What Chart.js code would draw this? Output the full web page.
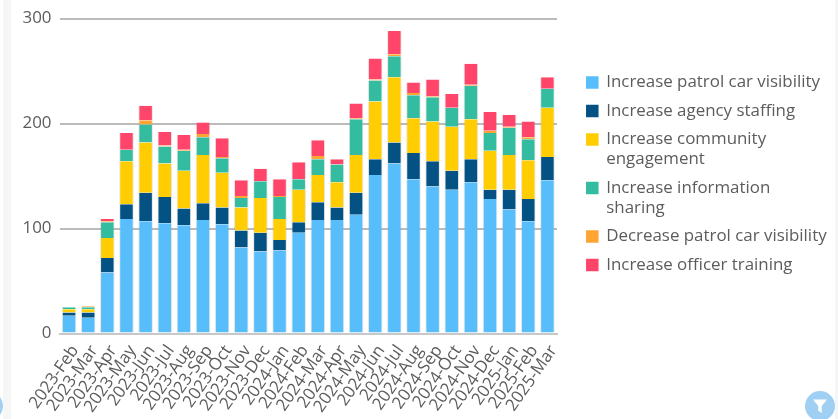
<!DOCTYPE html>
<html><head><meta charset="utf-8">
<script src="https://cdn.jsdelivr.net/npm/chart.js@4"></script>
<style>
html,body{margin:0;padding:0;background:#fff;width:838px;height:419px;overflow:hidden}
#wrap{position:absolute;left:0;top:0;width:838px;height:419px}
canvas{position:absolute;left:0;top:0}
.strip{position:absolute;top:0;bottom:0;background:#f6f6f6}
.btn{position:absolute;border-radius:50%;background:#9fd0f4;width:30px;height:30px}
</style></head><body>
<div id="wrap">
<div class="strip" style="left:3px;width:8px"></div>
<div class="strip" style="left:835px;width:3px"></div>
<div style="position:absolute;left:0;top:0;width:838px;height:419px"><canvas id="c" width="838" height="419"></canvas></div>
<div class="btn" style="left:-27px;top:391px"></div>
<div class="btn" style="left:805px;top:391px">
<svg width="30" height="30" viewBox="0 0 30 30"><path d="M8 8.5H22L16.7 15V22L13.3 19.5V15Z" fill="#fff"/></svg></div>
</div>
<script>
const categories=["2023-Feb","2023-Mar","2023-Apr","2023-May","2023-Jun","2023-Jul","2023-Aug","2023-Sep","2023-Oct","2023-Nov","2023-Dec","2024-Jan","2024-Feb","2024-Mar","2024-Apr","2024-May","2024-Jun","2024-Jul","2024-Aug","2024-Sep","2024-Oct","2024-Nov","2024-Dec","2025-Jan","2025-Feb","2025-Mar"];
const patrolVisibility=[17,15,58,109,107,105,103,108,104,82,78,79,96,108,108,113,151,162,147,140,137,144,128,118,107,146];
const agencyStaffing=[3,5,14,14,27,25,16,16,16,16,18,10,10,17,12,21,15,20,25,24,18,22,9,19,21,22];
const communityEngagement=[3,3,19,41,48,32,36,46,33,22,33,20,31,26,24,36,55,62,33,38,42,38,37,33,37,47];
const informationSharing=[2,2,15,11,17,16,19,17,14,9,16,21,10,15,17,34,20,20,22,23,18,32,17,26,20,18];
const decreaseVisibility=[0,1,1,0,4,1,1,3,1,2,0,1,0,3,0,1,1,2,2,1,0,1,2,1,2,0];
const officerTraining=[0,0,2,16,14,13,14,11,18,15,12,16,16,15,5,14,20,22,10,16,13,20,18,11,15,11];
const yTicks=[0,100,200,300];
const seriesLabels=[["Increase patrol car visibility"],["Increase agency staffing"],["Increase community","engagement"],["Increase information","sharing"],["Decrease patrol car visibility"],["Increase officer training"]];
const seriesColors=["#58bdfb","#045184","#ffcd02","#33bca0","#ffa533","#ff4569"];
const seriesValues=[patrolVisibility,agencyStaffing,communityEngagement,informationSharing,decreaseVisibility,officerTraining];
const FONT="'Open Sans'";
const legendPlacer={id:'legendPlacer',
 beforeLayout(chart){const l=chart.legend;if(l&&!l._wrapped){l._wrapped=true;const f=l.fit;l.fit=function(){f.call(this);this.width=277;};}},
 afterLayout(chart){const l=chart.legend;if(l){l.left=578.3;l.right=838;l.top=65.5;l.bottom=419;}}
};
new Chart(document.getElementById('c'),{
 type:'bar',
 data:{labels:categories,datasets:seriesValues.map((d,i)=>({label:seriesLabels[i],data:d,backgroundColor:seriesColors[i],borderColor:'rgba(150,150,150,0.25)',borderWidth:{left:1,right:1,top:0,bottom:0},categoryPercentage:1,barPercentage:0.76}))},
 plugins:[legendPlacer],
 options:{responsive:false,animation:false,devicePixelRatio:1,
  layout:{padding:{top:18.5,right:4,left:0,bottom:0}},
  plugins:{tooltip:{enabled:false},
   legend:{position:'right',align:'start',
    labels:{boxWidth:11,boxHeight:11,padding:8.5,color:'#5c5c5c',font:{family:FONT,size:16.9,lineHeight:20/16.9},
     generateLabels:c=>Chart.defaults.plugins.legend.labels.generateLabels(c).map(it=>Object.assign(it,{strokeStyle:it.fillStyle,lineWidth:1.5}))}}},
  scales:{
   x:{stacked:true,grid:{display:false},border:{color:'#c8c8c8',width:2},
      afterFit:s=>{s.height=85.5},
      ticks:{autoSkip:false,maxRotation:55,minRotation:55,color:'#5c5c5c',padding:0,labelOffset:6,font:{family:FONT,size:16.9}}},
   y:{stacked:true,min:0,max:300,afterFit:s=>{s.width=59.5},
      afterBuildTicks:s=>{s.ticks=yTicks.map(v=>({value:v}))},
      grid:{color:'#bbbbbb',lineWidth:2,drawTicks:false},border:{display:false},
      ticks:{color:'#5c5c5c',padding:8,font:{family:FONT,size:16.9}}}
  }}
});
</script>
</body></html>
